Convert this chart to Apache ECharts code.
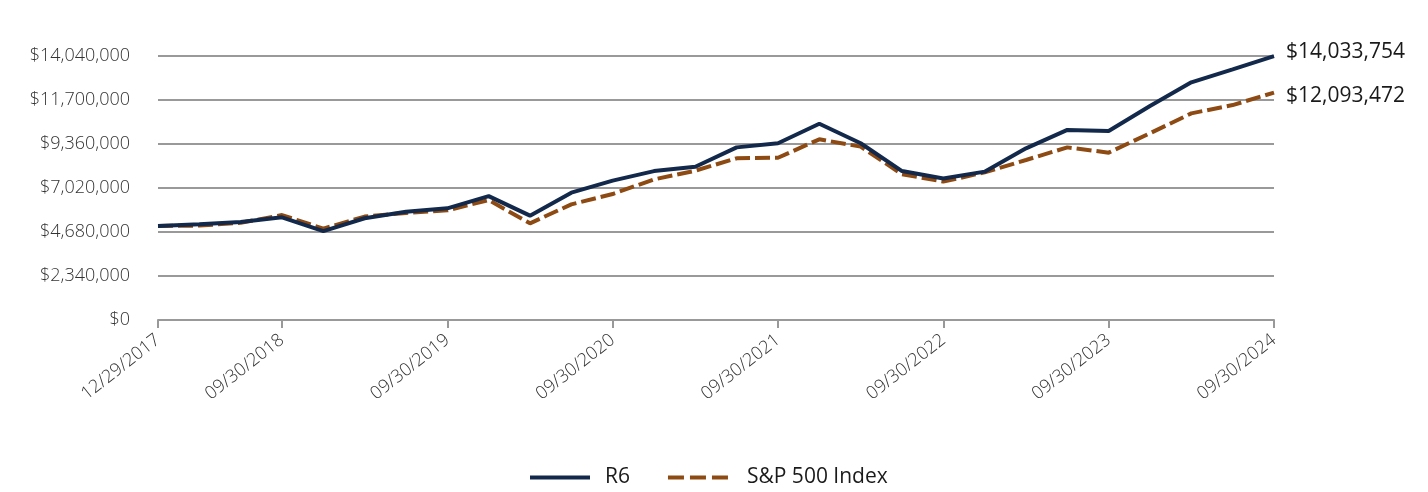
<!DOCTYPE html>
<html>
<head>
<meta charset="utf-8">
<script src="https://cdn.jsdelivr.net/npm/echarts@6/dist/echarts.min.js"></script>
<style>
html,body{margin:0;padding:0;background:#fff;}
#chart{width:1428px;height:492px;}
</style>
</head>
<body>
<div id="chart"></div>
<script>
const categories = [
  '12/29/2017','03/31/2018','06/30/2018','09/30/2018',
  '12/31/2018','03/31/2019','06/30/2019','09/30/2019',
  '12/31/2019','03/31/2020','06/30/2020','09/30/2020',
  '12/31/2020','03/31/2021','06/30/2021','09/30/2021',
  '12/31/2021','03/31/2022','06/30/2022','09/30/2022',
  '12/31/2022','03/31/2023','06/30/2023','09/30/2023',
  '12/31/2023','03/31/2024','06/30/2024','09/30/2024'
];
const labeledIndices = [0, 3, 7, 11, 15, 19, 23, 27];
const r6Values = [5000000, 5090000, 5210000, 5460000, 4730000, 5410000, 5760000, 5940000,
  6590000, 5550000, 6770000, 7410000, 7920000, 8150000, 9180000, 9400000,
  10440000, 9400000, 7920000, 7530000, 7890000, 9130000, 10110000, 10050000,
  11380000, 12640000, 13330000, 14033754];
const spValues = [5000000, 5020000, 5170000, 5580000, 4860000, 5500000, 5690000, 5830000,
  6380000, 5140000, 6150000, 6700000, 7480000, 7940000, 8600000, 8630000,
  9610000, 9220000, 7750000, 7360000, 7850000, 8510000, 9180000, 8900000,
  9930000, 10990000, 11430000, 12093472];
const yMin = 0, yMax = 14040000, yInterval = 2340000;

const fmt = v => '$' + Math.round(v).toString().replace(/\B(?=(\d{3})+(?!\d))/g, ',');
const showIdx = (i) => labeledIndices.indexOf(i) >= 0;

const NAVY = '#13294b', BROWN = '#8e4a13';

const chart = echarts.init(document.getElementById('chart'));
chart.setOption({
  animation: false,
  textStyle: { fontFamily: 'Open Sans' },
  grid: { left: 158, right: 154, top: 56, bottom: 172, containLabel: false },
  legend: {
    top: 462,
    left: 525,
    itemWidth: 60,
    itemHeight: 4,
    itemGap: 38,
    textStyle: { fontSize: 21, color: '#1a1a1a', fontFamily: 'Open Sans', padding: [0, 0, 0, 10] },
    data: [
      { name: 'R6', icon: 'path://M0,0L60,0L60,4L0,4Z', itemStyle: { color: NAVY } },
      { name: 'S&P 500 Index', icon: 'path://M0,0L16,0L16,4L0,4Z M22,0L38,0L38,4L22,4Z M44,0L60,0L60,4L44,4Z', itemStyle: { color: BROWN },
        textStyle: { padding: [0, 0, 0, 14] } }
    ]
  },
  xAxis: {
    type: 'category',
    data: categories,
    boundaryGap: false,
    axisLine: { lineStyle: { color: '#999', width: 2 } },
    axisTick: { show: true, interval: (i) => showIdx(i), length: 8, lineStyle: { color: '#999', width: 2 } },
    axisLabel: {
      interval: (i) => showIdx(i),
      rotate: 38,
      margin: 18,
      fontSize: 18,
      fontWeight: 300,
      color: '#333'
    },
    splitLine: { show: false }
  },
  yAxis: {
    type: 'value',
    min: yMin, max: yMax, interval: yInterval,
    axisLine: { show: false },
    axisTick: { show: false },
    axisLabel: { formatter: fmt, fontSize: 18, fontWeight: 300, color: '#333', margin: 28 },
    splitLine: { lineStyle: { color: '#999', width: 2 } }
  },
  series: [
    {
      name: 'R6',
      type: 'line',
      data: r6Values,
      symbol: 'none',
      z: 3,
      lineStyle: { color: NAVY, width: 4 },
      itemStyle: { color: NAVY },
      endLabel: { show: true, formatter: (p) => fmt(p.value), fontSize: 21, color: '#1a1a1a', distance: 12, offset: [0, -4] }
    },
    {
      name: 'S&P 500 Index',
      type: 'line',
      data: spValues,
      symbol: 'none',
      z: 2,
      lineStyle: { color: BROWN, width: 4, type: [15, 5] },
      itemStyle: { color: BROWN },
      endLabel: { show: true, formatter: (p) => fmt(p.value), fontSize: 21, color: '#1a1a1a', distance: 12, offset: [0, 3] }
    }
  ]
});
</script>
</body>
</html>
